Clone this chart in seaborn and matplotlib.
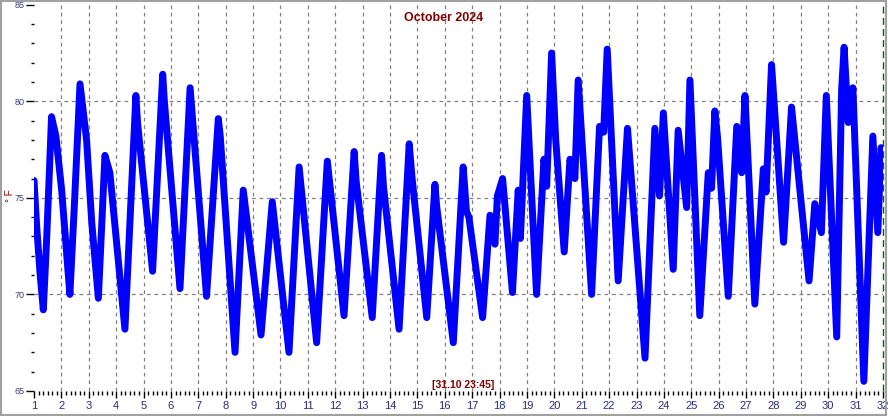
import matplotlib
matplotlib.use('Agg')
import matplotlib.pyplot as plt
import seaborn as sns
import pandas as pd
from matplotlib.ticker import MultipleLocator
from matplotlib.patches import Rectangle

# temperature readings (day of month, deg F)
days = [1.00, 1.10, 1.22, 1.34, 1.46, 1.56, 1.64, 1.80, 2.01, 2.17,
        2.31, 2.47, 2.68, 2.92, 3.11, 3.35, 3.59, 3.77, 4.32,
        4.72, 4.78, 5.33, 5.70, 5.76, 6.33, 6.70, 7.30, 7.73, 7.80,
        8.34, 8.64, 9.29, 9.70, 10.31, 10.68, 11.32, 11.71, 12.32, 12.69,
        12.76, 13.35, 13.69, 13.76, 14.33, 14.70, 14.80, 15.34, 15.64, 15.70,
        16.31, 16.67, 16.79, 16.88, 17.38, 17.65, 17.83, 17.92, 18.11, 18.47,
        18.68, 18.76, 18.99, 19.35, 19.62, 19.72, 19.90, 20.05, 20.36, 20.57,
        20.75, 20.87, 21.36, 21.65, 21.80, 21.93, 22.33, 22.67, 23.31, 23.67,
        23.84, 23.98, 24.34, 24.52, 24.83, 24.95, 25.31, 25.62, 25.74, 25.86,
        25.96, 26.35, 26.66, 26.84, 26.96, 27.32, 27.63, 27.73, 27.93, 28.37,
        28.66, 29.30, 29.51, 29.75, 29.93, 30.31, 30.49, 30.58, 30.73, 30.90,
        31.30, 31.63, 31.81, 31.93, 32.00]
temps = [75.9, 73.5, 71.1, 69.2, 72.8, 76.3, 79.2, 78.2, 75.4, 72.5,
         70.0, 74.5, 80.9, 78.0, 73.7, 69.8, 77.2, 76.3, 68.2,
         80.3, 78.9, 71.2, 81.4, 80.0, 70.3, 80.7, 69.9, 79.1, 78.2,
         67.0, 75.4, 67.9, 74.8, 67.0, 76.6, 67.5, 76.9, 68.9, 77.4,
         75.9, 68.8, 77.2, 75.6, 68.2, 77.8, 76.1, 68.8, 75.7, 74.6,
         67.5, 76.6, 74.3, 74.0, 68.8, 74.1, 72.6, 75.1, 76.0, 70.1,
         75.4, 72.9, 80.3, 70.0, 77.0, 75.6, 82.5, 78.0, 72.2, 77.0,
         76.0, 81.1, 70.0, 78.7, 78.4, 82.7, 70.7, 78.6, 66.7, 78.6,
         75.1, 79.4, 71.3, 78.5, 74.5, 81.1, 68.9, 76.3, 75.5, 79.5,
         78.1, 69.9, 78.7, 76.3, 80.3, 69.5, 76.5, 75.3, 81.9, 72.7,
         79.7, 70.7, 74.7, 73.2, 80.3, 67.8, 80.6, 82.8, 78.9, 80.7,
         65.5, 78.2, 73.2, 77.6, 76.8]

x_ticks = list(range(1, 33))
y_ticks = [65, 70, 75, 80, 85]
grid_y = [70, 75, 80]

sns.set_style("white")
plt.rcParams['font.family'] = ['Liberation Sans', 'DejaVu Sans']

fig = plt.figure(figsize=(8.88, 4.16), dpi=100)
ax = fig.add_axes([34 / 888, 1 - 391 / 416, (883 - 34) / 888, (391 - 4.7) / 416])

df = pd.DataFrame({'day': days, 'temp': temps})
sns.lineplot(data=df, x='day', y='temp', ax=ax, color='#0000ff',
             linewidth=5, sort=False, zorder=3)
ax.lines[0].set_solid_joinstyle('round')
ax.lines[0].set_solid_capstyle('round')

ax.set_xlim(1, 32)
ax.set_ylim(65, 85)
for s in ax.spines.values():
    s.set_visible(False)

# dashed grid
for d in x_ticks[1:-1]:
    ax.axvline(d, color='#808080', lw=0.9, ls=(0, (3, 3)), zorder=1)
for v in grid_y:
    ax.axhline(v, color='#808080', lw=0.9, ls=(0, (3, 3)), zorder=1)
ax.axvline(32, color='#006400', lw=1.0, ls=(0, (5, 3)), zorder=1, clip_on=False)

ax.set_xticks(x_ticks)
ax.xaxis.set_minor_locator(MultipleLocator(1 / 6))
ax.set_yticks(y_ticks)
ax.yaxis.set_minor_locator(MultipleLocator(1))
ax.tick_params(which='both', bottom=True, left=True, top=False, right=False)
ax.tick_params(axis='x', which='major', direction='out', length=5, width=1,
               color='black', labelcolor='#2a2a80', labelsize=8, pad=2)
ax.tick_params(axis='x', which='minor', direction='out', length=3, width=1, color='black')
ax.tick_params(axis='y', which='major', direction='out', length=6, width=1,
               color='black', labelcolor='#3a3a80', labelsize=6.5, pad=1)
ax.tick_params(axis='y', which='minor', direction='out', length=2.5, width=1, color='black')
ax.set_xlabel('')
ax.set_ylabel('')

fig.text(0.5, 1 - 18 / 416, 'October 2024', color='#800000', fontsize=9,
         fontweight='bold', ha='center', va='center')
fig.text(463 / 888, 1 - 385 / 416, '[31.10 23:45]', color='#800000', fontsize=7.5,
         fontweight='bold', ha='center', va='center')
fig.text(10 / 888, 1 - 196 / 416, '° F', color='#800000', fontsize=7,
         rotation=90, ha='center', va='center')

# outer frame
fig.patches.append(Rectangle((0.001, 0.002), 0.997, 0.996, transform=fig.transFigure,
                             fill=False, edgecolor='#a0a0a0', lw=1.5))

fig.savefig('out.png', dpi=100)
